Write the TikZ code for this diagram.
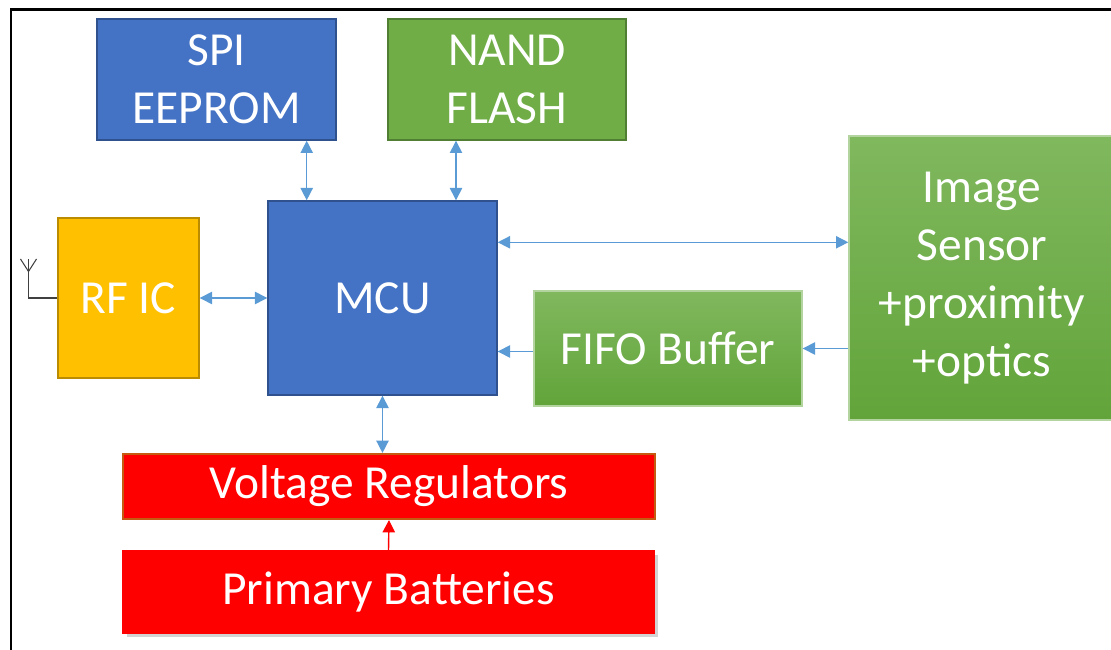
\documentclass[tikz,border=0pt]{standalone}
\usepackage{fontspec}
\setmainfont{Carlito}
\usetikzlibrary{positioning, arrows.meta, shadows}
\definecolor{mBlue}{HTML}{4472C4}
\definecolor{mBlueEdge}{HTML}{2F528F}
\definecolor{mGreen}{HTML}{70AD47}
\definecolor{mGreenEdge}{HTML}{507E32}
\definecolor{mGreenTop}{HTML}{80B85E}
\definecolor{mGreenBot}{HTML}{62A43A}
\definecolor{mGold}{HTML}{FFC000}
\definecolor{mGoldEdge}{HTML}{BC8C00}
\definecolor{mRedEdge}{HTML}{C55A11}
\definecolor{mLink}{HTML}{5B9BD5}

\begin{document}
\begin{tikzpicture}[
  block/.style={
    rectangle,
    draw=mBlueEdge,
    fill=mBlue,
    line width=0.8pt,
    text=white,
    align=center,
    inner sep=0pt,
    font=\fontsize{27}{33}\selectfont
  },
  greenblock/.style={
    block,
    draw=mGreenEdge,
    fill=mGreen
  },
  shadeblock/.style={
    block,
    draw=mGreenTop!60,
    top color=mGreenTop,
    bottom color=mGreenBot
  },
  biarrow/.style={
    draw=mLink,
    line width=0.8pt,
    {Triangle[length=7pt,width=7pt]}-{Triangle[length=7pt,width=7pt]}
  },
  onearrow/.style={
    draw=mLink,
    line width=0.8pt,
    -{Triangle[length=7pt,width=7pt]}
  }
]
\useasboundingbox (0,0) rectangle (22.22,-13);

% outer frame
\draw[line width=1.4pt] (0.22,-13) -- (0.22,-0.19) -- (22.3,-0.19);

\node[block, minimum width=4.78cm, minimum height=2.42cm] (spi) at (4.33,-1.59) {SPI\\EEPROM};
\node[greenblock, minimum width=4.76cm, minimum height=2.42cm] (nand) at (10.14,-1.59) {NAND\\FLASH};

\node[block, minimum width=4.58cm, minimum height=3.88cm] (mcu) at (7.65,-5.96) {MCU};
\node[block, draw=mGoldEdge, fill=mGold, minimum width=2.82cm, minimum height=3.2cm] (rf) at (2.57,-5.96) {RF IC};

\node[shadeblock, minimum width=5.32cm, minimum height=5.68cm] (img) at (19.64,-5.56) {Image\\Sensor\\+proximity\\+optics};
\node[shadeblock, minimum width=5.36cm, minimum height=2.3cm] (fifo) at (13.36,-6.97) {FIFO Buffer};

\node[block, draw=mRedEdge, fill=red, line width=1.2pt, minimum width=10.64cm, minimum height=1.3cm] (vreg) at (7.78,-9.73) {Voltage Regulators};
\node[block, draw=red, fill=red, drop shadow={opacity=0.35}, minimum width=10.62cm, minimum height=1.64cm] (batt) at (7.77,-11.84) {Primary Batteries};

% antenna
\coordinate (anttop) at (0.57,-5.18);
\coordinate (antfork) at (0.57,-5.43);
\draw[black!75, line width=0.6pt] (rf.west) -| (anttop);
\draw[black!75, line width=0.6pt] (antfork) -- ++(-0.16,0.25) (antfork) -- ++(0.16,0.25);

% links
\draw[biarrow] ([xshift=-0.6cm]spi.south east) -- ([xshift=-0.6cm]spi.south east |- mcu.north);
\draw[biarrow] ([xshift=-1.02cm]nand.south) -- ([xshift=-1.02cm]nand.south |- mcu.north);
\draw[biarrow] (rf.east) -- (mcu.west);
\draw[biarrow] ([yshift=-0.84cm]mcu.north east) -- ([yshift=-0.84cm]mcu.north east -| img.west);
\draw[onearrow] (img.west |- fifo.east) -- (fifo.east);
\draw[onearrow] ([yshift=-0.06cm]fifo.west) -- ([yshift=-0.06cm]fifo.west -| mcu.east);
\draw[biarrow] (mcu.south) -- (mcu.south |- vreg.north);
\draw[onearrow, draw=red] (batt.north) -- (vreg.south);

\end{tikzpicture}
\end{document}
